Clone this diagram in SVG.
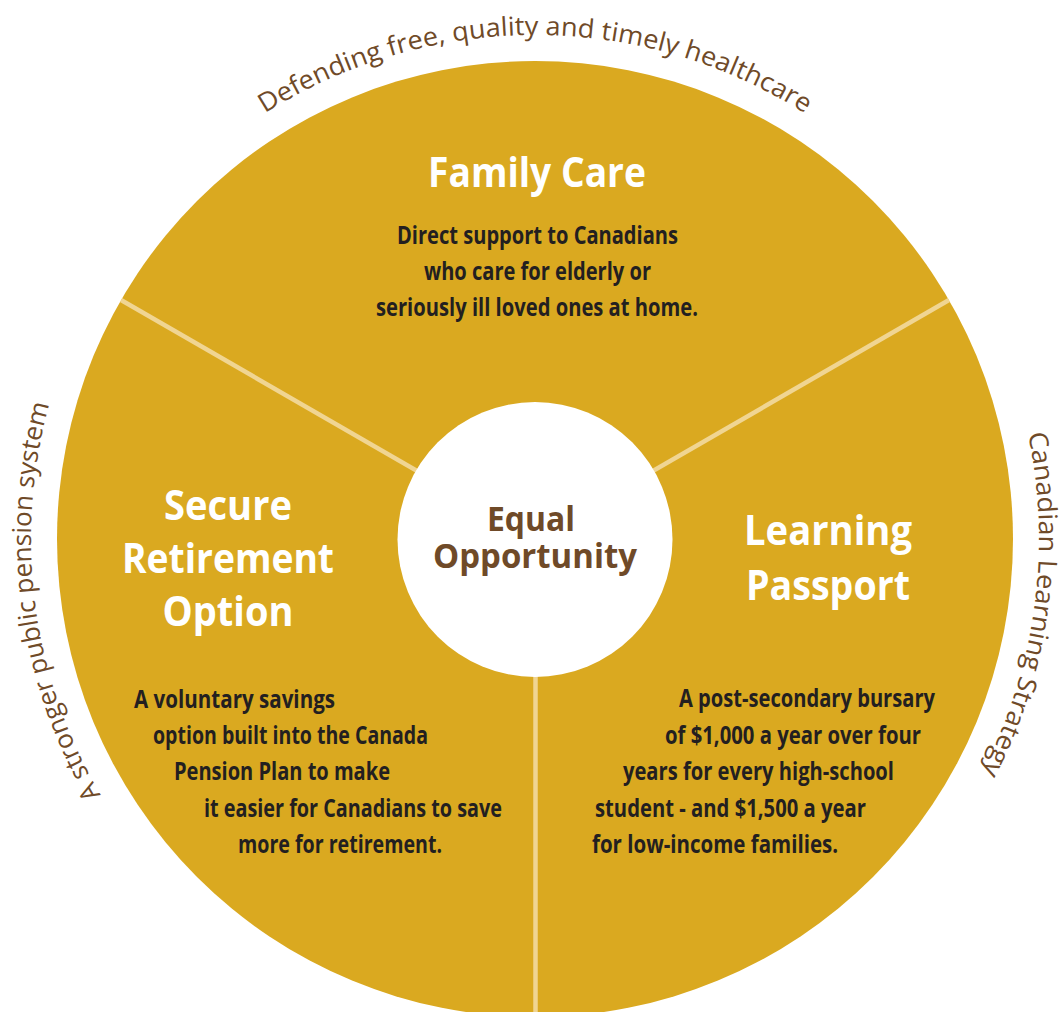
<svg xmlns="http://www.w3.org/2000/svg" width="1061" height="1012" viewBox="0 0 1061 1012">
<style>
.ring{fill:#DAA920}
.hub{fill:#FFFFFF}
.div{stroke:#F0D592;stroke-width:4.5;fill:none}
.arc{font-family:"Open Sans","Noto Sans",sans-serif;font-size:26px;fill:#6F4A28}
.title{font-family:"Open Sans","Noto Sans",sans-serif;font-weight:700;font-size:42px;fill:#FFFFFF;text-anchor:middle}
.body{font-family:"Open Sans","Noto Sans",sans-serif;font-weight:700;font-size:25px;fill:#231F20}
.center{font-family:"Open Sans","Noto Sans",sans-serif;font-weight:700;font-size:34px;fill:#6F4A28;text-anchor:middle}
</style>
<defs>
<path id="arcTop" d="M98.5,287 A504,504 0 0 1 971.5,287"/>
<path id="arcRight" d="M908,200 A504,504 0 0 1 803.9,965.2"/>
<path id="arcLeft" d="M264.2,964.1 A504,504 0 0 1 163.4,198.5"/>
</defs>
<rect width="1061" height="1012" fill="#FFFFFF"/>
<circle class="ring" cx="535" cy="539" r="478"/>
<g id="connectors">
<line class="div" x1="535" y1="539" x2="121" y2="300"/>
<line class="div" x1="535" y1="539" x2="949" y2="300"/>
<line class="div" x1="535.5" y1="539" x2="535.5" y2="1017"/>
</g>
<g id="node-equal-opportunity">
<circle class="hub" cx="535" cy="539.5" r="137.5"/>
<text class="center" x="531" y="531" textLength="88" lengthAdjust="spacingAndGlyphs">Equal</text>
<text class="center" x="535" y="568" textLength="204" lengthAdjust="spacingAndGlyphs">Opportunity</text>
</g>
<g id="node-family-care">
<text class="title" x="537" y="187" textLength="218" lengthAdjust="spacingAndGlyphs">Family Care</text>
<text class="body" x="397" y="244" textLength="281" lengthAdjust="spacingAndGlyphs">Direct support to Canadians</text>
<text class="body" x="424" y="280" textLength="227" lengthAdjust="spacingAndGlyphs">who care for elderly or</text>
<text class="body" x="376" y="316" textLength="322" lengthAdjust="spacingAndGlyphs">seriously ill loved ones at home.</text>
</g>
<g id="node-secure-retirement">
<text class="title" x="228" y="520" textLength="128" lengthAdjust="spacingAndGlyphs">Secure</text>
<text class="title" x="228" y="573" textLength="212" lengthAdjust="spacingAndGlyphs">Retirement</text>
<text class="title" x="228" y="626" textLength="131" lengthAdjust="spacingAndGlyphs">Option</text>
<text class="body" x="134" y="708" textLength="201" lengthAdjust="spacingAndGlyphs">A voluntary savings</text>
<text class="body" x="153" y="744" textLength="275" lengthAdjust="spacingAndGlyphs">option built into the Canada</text>
<text class="body" x="174" y="780" textLength="216" lengthAdjust="spacingAndGlyphs">Pension Plan to make</text>
<text class="body" x="204" y="817" textLength="298" lengthAdjust="spacingAndGlyphs">it easier for Canadians to save</text>
<text class="body" x="238" y="853" textLength="204" lengthAdjust="spacingAndGlyphs">more for retirement.</text>
</g>
<g id="node-learning-passport">
<text class="title" x="828" y="545" textLength="168" lengthAdjust="spacingAndGlyphs">Learning</text>
<text class="title" x="828" y="600" textLength="164" lengthAdjust="spacingAndGlyphs">Passport</text>
<text class="body" x="679" y="707" textLength="256" lengthAdjust="spacingAndGlyphs">A post-secondary bursary</text>
<text class="body" x="665" y="744" textLength="256" lengthAdjust="spacingAndGlyphs">of $1,000 a year over four</text>
<text class="body" x="623" y="780" textLength="271" lengthAdjust="spacingAndGlyphs">years for every high-school</text>
<text class="body" x="595" y="817" textLength="271" lengthAdjust="spacingAndGlyphs">student - and $1,500 a year</text>
<text class="body" x="592" y="853" textLength="246" lengthAdjust="spacingAndGlyphs">for low-income families.</text>
</g>
<g id="arc-labels">
<text class="arc"><textPath href="#arcTop" startOffset="50%" text-anchor="middle" textLength="570" lengthAdjust="spacingAndGlyphs">Defending free, quality and timely healthcare</textPath></text>
<text class="arc"><textPath href="#arcRight" startOffset="50%" text-anchor="middle" textLength="348" lengthAdjust="spacingAndGlyphs">Canadian Learning Strategy</textPath></text>
<text class="arc"><textPath href="#arcLeft" startOffset="50%" text-anchor="middle" textLength="405" lengthAdjust="spacingAndGlyphs">A stronger public pension system</textPath></text>
</g>
</svg>
